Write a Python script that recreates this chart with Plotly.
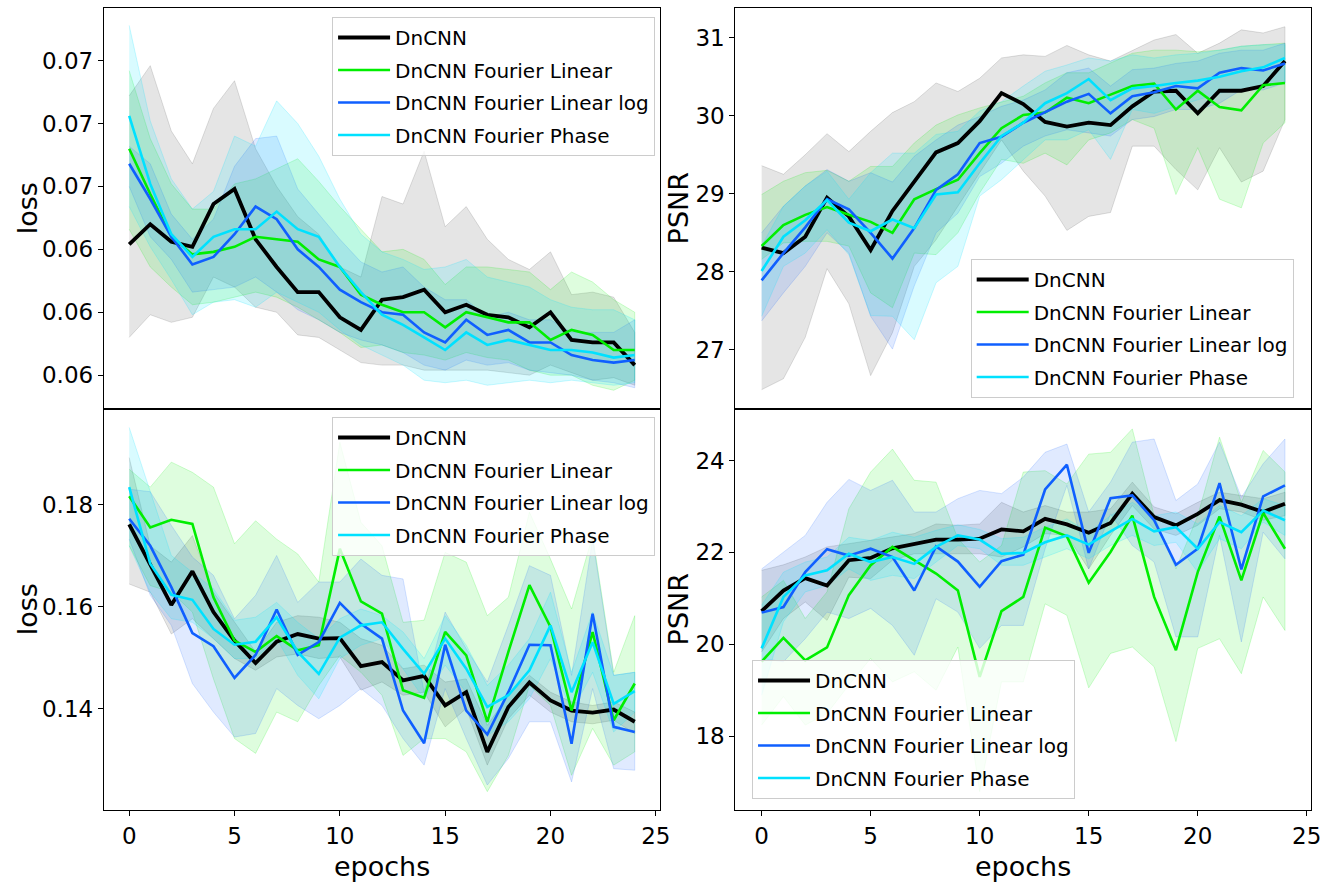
import plotly.graph_objects as go

# ---------------- data ----------------
epochs = list(range(25))
series_names = ["DnCNN", "DnCNN Fourier Linear", "DnCNN Fourier Linear log", "DnCNN Fourier Phase"]

# top-left: loss (dataset A)
tl_dncnn = [0.0627, 0.0635, 0.0628, 0.0626, 0.0643, 0.0649, 0.0629, 0.0618, 0.0608, 0.0608, 0.0598, 0.0593, 0.0605, 0.0606, 0.0609, 0.0600, 0.0603, 0.0599, 0.0598, 0.0594, 0.0600, 0.0589, 0.0588, 0.0588, 0.0579]
tl_dncnn_hi = [0.0686, 0.0698, 0.0672, 0.0659, 0.0681, 0.0692, 0.0665, 0.0650, 0.0638, 0.0631, 0.0618, 0.0614, 0.0646, 0.0643, 0.0664, 0.0634, 0.0642, 0.0629, 0.0621, 0.0617, 0.0624, 0.0607, 0.0608, 0.0606, 0.0592]
tl_dncnn_lo = [0.0590, 0.0599, 0.0596, 0.0598, 0.0614, 0.0610, 0.0602, 0.0600, 0.0591, 0.0590, 0.0585, 0.0580, 0.0579, 0.0579, 0.0577, 0.0577, 0.0577, 0.0577, 0.0576, 0.0575, 0.0579, 0.0576, 0.0573, 0.0574, 0.0571]
tl_lin = [0.0665, 0.0647, 0.0630, 0.0623, 0.0624, 0.0626, 0.0630, 0.0629, 0.0628, 0.0621, 0.0618, 0.0607, 0.0603, 0.0600, 0.0600, 0.0594, 0.0600, 0.0598, 0.0596, 0.0596, 0.0589, 0.0593, 0.0591, 0.0585, 0.0585]
tl_lin_hi = [0.0696, 0.0669, 0.0651, 0.0641, 0.0641, 0.0651, 0.0653, 0.0657, 0.0661, 0.0652, 0.0642, 0.0633, 0.0624, 0.0625, 0.0621, 0.0611, 0.0618, 0.0618, 0.0617, 0.0616, 0.0609, 0.0616, 0.0612, 0.0605, 0.0600]
tl_lin_lo = [0.0633, 0.0618, 0.0610, 0.0603, 0.0604, 0.0606, 0.0608, 0.0606, 0.0602, 0.0597, 0.0592, 0.0586, 0.0587, 0.0584, 0.0583, 0.0581, 0.0584, 0.0582, 0.0581, 0.0577, 0.0575, 0.0575, 0.0571, 0.0569, 0.0573]
tl_log = [0.0659, 0.0645, 0.0630, 0.0619, 0.0622, 0.0631, 0.0642, 0.0637, 0.0625, 0.0618, 0.0609, 0.0604, 0.0600, 0.0599, 0.0592, 0.0588, 0.0597, 0.0591, 0.0593, 0.0588, 0.0588, 0.0583, 0.0581, 0.0580, 0.0581]
tl_log_hi = [0.0666, 0.0659, 0.0639, 0.0629, 0.0637, 0.0658, 0.0669, 0.0670, 0.0649, 0.0639, 0.0629, 0.0620, 0.0616, 0.0618, 0.0610, 0.0605, 0.0605, 0.0598, 0.0600, 0.0597, 0.0597, 0.0592, 0.0592, 0.0592, 0.0597]
tl_log_lo = [0.0650, 0.0630, 0.0621, 0.0608, 0.0609, 0.0610, 0.0614, 0.0608, 0.0601, 0.0597, 0.0592, 0.0589, 0.0587, 0.0584, 0.0579, 0.0577, 0.0581, 0.0579, 0.0580, 0.0577, 0.0576, 0.0575, 0.0573, 0.0572, 0.0570]
tl_phase = [0.0678, 0.0651, 0.0631, 0.0622, 0.0630, 0.0633, 0.0633, 0.0640, 0.0633, 0.0630, 0.0618, 0.0608, 0.0599, 0.0595, 0.0590, 0.0585, 0.0592, 0.0587, 0.0589, 0.0587, 0.0585, 0.0585, 0.0584, 0.0582, 0.0583]
tl_phase_hi = [0.0714, 0.0676, 0.0653, 0.0641, 0.0648, 0.0670, 0.0666, 0.0684, 0.0675, 0.0662, 0.0645, 0.0631, 0.0624, 0.0621, 0.0617, 0.0618, 0.0621, 0.0614, 0.0612, 0.0610, 0.0605, 0.0602, 0.0601, 0.0601, 0.0597]
tl_phase_lo = [0.0642, 0.0626, 0.0613, 0.0599, 0.0604, 0.0605, 0.0602, 0.0608, 0.0604, 0.0600, 0.0593, 0.0587, 0.0583, 0.0579, 0.0573, 0.0572, 0.0573, 0.0571, 0.0572, 0.0573, 0.0572, 0.0573, 0.0572, 0.0571, 0.0572]

# top-right: PSNR (dataset A)
tr_dncnn = [28.31, 28.24, 28.45, 28.95, 28.71, 28.28, 28.78, 29.16, 29.53, 29.65, 29.93, 30.29, 30.15, 29.92, 29.86, 29.91, 29.88, 30.12, 30.31, 30.32, 30.03, 30.32, 30.32, 30.38, 30.70]
tr_dncnn_hi = [29.36, 29.25, 29.50, 29.77, 29.54, 29.80, 30.04, 30.18, 30.42, 30.31, 30.48, 30.74, 30.78, 30.76, 30.90, 30.78, 30.70, 30.84, 30.97, 31.04, 30.80, 30.93, 31.10, 31.06, 31.14]
tr_dncnn_lo = [26.49, 26.63, 27.16, 28.04, 27.59, 26.67, 27.22, 28.07, 28.41, 28.84, 29.27, 29.69, 29.29, 28.97, 28.53, 28.71, 28.76, 29.61, 29.61, 29.31, 29.05, 29.59, 29.15, 29.29, 29.95]
tr_lin = [28.33, 28.60, 28.73, 28.83, 28.73, 28.64, 28.50, 28.93, 29.06, 29.18, 29.52, 29.84, 30.01, 30.04, 30.23, 30.16, 30.27, 30.38, 30.41, 30.08, 30.32, 30.11, 30.07, 30.39, 30.42]
tr_lin_hi = [28.99, 29.16, 29.27, 29.30, 29.16, 29.35, 29.35, 29.65, 29.88, 30.01, 30.10, 30.18, 30.25, 30.42, 30.55, 30.55, 30.67, 30.80, 30.84, 30.84, 30.82, 30.84, 30.89, 30.91, 30.93]
tr_lin_lo = [28.16, 28.37, 28.39, 28.39, 28.33, 27.73, 27.54, 28.24, 28.22, 28.50, 29.01, 29.44, 29.39, 29.52, 29.37, 29.69, 29.78, 29.95, 29.84, 28.99, 29.59, 28.93, 28.82, 29.65, 29.91]
tr_log = [27.89, 28.24, 28.57, 28.93, 28.80, 28.50, 28.17, 28.56, 29.05, 29.25, 29.65, 29.73, 29.91, 30.05, 30.18, 30.28, 30.03, 30.25, 30.30, 30.38, 30.35, 30.55, 30.61, 30.58, 30.67]
tr_log_hi = [28.50, 28.84, 29.10, 29.31, 29.16, 29.27, 29.15, 29.48, 29.69, 29.88, 29.99, 30.12, 30.20, 30.33, 30.55, 30.61, 30.38, 30.59, 30.61, 30.67, 30.70, 30.80, 30.84, 30.84, 30.93]
tr_log_lo = [27.37, 27.73, 28.07, 28.50, 28.24, 27.43, 27.01, 27.82, 28.50, 28.75, 29.22, 29.39, 29.61, 29.74, 29.82, 29.78, 29.74, 29.95, 29.99, 30.08, 30.08, 30.16, 30.33, 30.33, 30.42]
tr_phase = [28.01, 28.45, 28.66, 28.92, 28.63, 28.52, 28.67, 28.56, 28.99, 29.02, 29.39, 29.74, 29.91, 30.16, 30.29, 30.47, 30.20, 30.35, 30.38, 30.42, 30.45, 30.50, 30.57, 30.62, 30.74]
tr_phase_hi = [28.33, 28.84, 29.10, 29.29, 28.93, 29.27, 29.52, 29.52, 29.76, 29.80, 30.06, 30.18, 30.38, 30.57, 30.65, 30.74, 30.70, 30.78, 30.74, 30.78, 30.80, 30.84, 30.89, 30.91, 30.91]
tr_phase_lo = [27.43, 28.07, 28.24, 28.54, 28.22, 27.44, 27.43, 27.13, 27.86, 28.07, 28.97, 29.18, 29.44, 29.69, 29.69, 29.82, 29.44, 30.08, 30.03, 30.12, 30.20, 30.29, 30.33, 30.38, 30.42]

# bottom-left: loss (dataset B)
bl_dncnn = [0.1761, 0.1680, 0.1603, 0.1669, 0.1589, 0.1533, 0.1489, 0.1531, 0.1546, 0.1537, 0.1538, 0.1483, 0.1491, 0.1455, 0.1464, 0.1406, 0.1432, 0.1315, 0.1403, 0.1451, 0.1416, 0.1396, 0.1392, 0.1398, 0.1374]
bl_dncnn_hi = [0.1892, 0.1719, 0.1687, 0.1739, 0.1628, 0.1569, 0.1511, 0.1569, 0.1582, 0.1579, 0.1569, 0.1537, 0.1524, 0.1478, 0.1485, 0.1452, 0.1458, 0.1367, 0.1426, 0.1465, 0.1432, 0.1413, 0.1406, 0.1413, 0.1393]
bl_dncnn_lo = [0.1644, 0.1628, 0.1546, 0.1576, 0.1537, 0.1498, 0.1475, 0.1501, 0.1507, 0.1498, 0.1501, 0.1436, 0.1452, 0.1426, 0.1432, 0.1364, 0.1400, 0.1289, 0.1380, 0.1426, 0.1393, 0.1374, 0.1370, 0.1377, 0.1351]
bl_lin = [0.1816, 0.1755, 0.1770, 0.1762, 0.1618, 0.1533, 0.1511, 0.1542, 0.1514, 0.1524, 0.1713, 0.1610, 0.1586, 0.1436, 0.1421, 0.1550, 0.1504, 0.1374, 0.1511, 0.1642, 0.1560, 0.1396, 0.1550, 0.1377, 0.1449]
bl_lin_hi = [0.1869, 0.1834, 0.1883, 0.1863, 0.1834, 0.1723, 0.1768, 0.1732, 0.1703, 0.1648, 0.1922, 0.1765, 0.1719, 0.1569, 0.1573, 0.1706, 0.1687, 0.1582, 0.1618, 0.1785, 0.1693, 0.1595, 0.1739, 0.1471, 0.1582]
bl_lin_lo = [0.1719, 0.1641, 0.1628, 0.1589, 0.1458, 0.1341, 0.1312, 0.1393, 0.1374, 0.1445, 0.1504, 0.1471, 0.1426, 0.1308, 0.1341, 0.1341, 0.1315, 0.1237, 0.1308, 0.1445, 0.1406, 0.1269, 0.1361, 0.1289, 0.1315]
bl_log = [0.1772, 0.1719, 0.1638, 0.1548, 0.1522, 0.1460, 0.1505, 0.1594, 0.1505, 0.1530, 0.1607, 0.1566, 0.1537, 0.1396, 0.1332, 0.1525, 0.1396, 0.1349, 0.1432, 0.1525, 0.1524, 0.1331, 0.1586, 0.1364, 0.1354]
bl_log_hi = [0.1830, 0.1825, 0.1759, 0.1697, 0.1661, 0.1576, 0.1622, 0.1700, 0.1608, 0.1648, 0.1648, 0.1693, 0.1661, 0.1654, 0.1432, 0.1589, 0.1517, 0.1452, 0.1563, 0.1680, 0.1661, 0.1465, 0.1732, 0.1465, 0.1471]
bl_log_lo = [0.1732, 0.1622, 0.1563, 0.1449, 0.1393, 0.1344, 0.1351, 0.1439, 0.1406, 0.1380, 0.1406, 0.1439, 0.1406, 0.1341, 0.1289, 0.1439, 0.1341, 0.1250, 0.1302, 0.1374, 0.1374, 0.1256, 0.1439, 0.1282, 0.1279]
bl_phase = [0.1834, 0.1684, 0.1623, 0.1613, 0.1556, 0.1525, 0.1531, 0.1579, 0.1511, 0.1468, 0.1539, 0.1563, 0.1569, 0.1517, 0.1468, 0.1537, 0.1478, 0.1403, 0.1426, 0.1475, 0.1563, 0.1432, 0.1530, 0.1409, 0.1434]
bl_phase_hi = [0.1951, 0.1827, 0.1700, 0.1667, 0.1635, 0.1573, 0.1579, 0.1608, 0.1569, 0.1537, 0.1576, 0.1595, 0.1582, 0.1550, 0.1498, 0.1582, 0.1524, 0.1445, 0.1485, 0.1537, 0.1628, 0.1471, 0.1589, 0.1465, 0.1471]
bl_phase_lo = [0.1719, 0.1628, 0.1576, 0.1569, 0.1537, 0.1498, 0.1498, 0.1537, 0.1465, 0.1419, 0.1498, 0.1524, 0.1537, 0.1478, 0.1419, 0.1485, 0.1432, 0.1347, 0.1374, 0.1419, 0.1498, 0.1393, 0.1471, 0.1354, 0.1393]

# bottom-right: PSNR (dataset B)
br_dncnn = [20.72, 21.17, 21.44, 21.28, 21.83, 21.88, 22.09, 22.19, 22.28, 22.28, 22.30, 22.50, 22.46, 22.73, 22.61, 22.43, 22.64, 23.28, 22.77, 22.59, 22.84, 23.14, 23.04, 22.88, 23.06]
br_dncnn_hi = [21.61, 21.73, 21.90, 22.12, 22.19, 22.26, 22.33, 22.41, 22.62, 22.59, 22.62, 23.09, 22.88, 23.02, 22.88, 22.88, 22.95, 23.53, 22.99, 22.84, 23.09, 23.31, 23.24, 23.17, 23.31]
br_dncnn_lo = [19.83, 20.56, 20.92, 20.52, 21.46, 21.43, 21.83, 21.97, 21.97, 21.97, 21.97, 21.90, 22.12, 22.41, 22.37, 21.64, 22.37, 23.02, 22.51, 22.37, 22.59, 22.95, 22.88, 22.70, 22.80]
br_lin = [19.62, 20.14, 19.65, 19.93, 21.07, 21.72, 22.12, 21.83, 21.54, 21.17, 19.29, 20.72, 21.03, 22.54, 22.35, 21.34, 22.01, 22.80, 21.03, 19.87, 21.57, 22.78, 21.39, 22.86, 22.08]
br_lin_hi = [21.03, 21.39, 20.56, 21.14, 22.95, 23.75, 24.25, 23.57, 23.53, 22.30, 21.79, 22.15, 23.75, 23.78, 23.49, 24.14, 24.18, 24.69, 22.80, 21.64, 22.80, 24.51, 23.09, 24.22, 23.75]
br_lin_lo = [18.24, 18.86, 18.24, 18.49, 19.11, 19.69, 19.18, 19.40, 19.00, 19.94, 16.79, 19.18, 19.18, 20.88, 20.63, 19.05, 19.80, 19.94, 19.51, 17.88, 19.91, 20.12, 19.36, 21.03, 20.30]
br_log = [20.69, 20.81, 21.57, 22.07, 21.93, 22.08, 21.90, 21.17, 22.13, 21.80, 21.25, 21.81, 21.95, 23.37, 23.91, 21.99, 23.18, 23.24, 22.70, 21.73, 22.08, 23.51, 21.63, 23.22, 23.46]
br_log_hi = [21.64, 22.01, 22.37, 23.09, 23.59, 23.35, 23.57, 22.88, 22.88, 23.17, 23.35, 23.28, 23.64, 24.18, 24.36, 22.88, 23.53, 24.40, 24.47, 23.13, 23.49, 24.40, 23.20, 23.93, 24.47]
br_log_lo = [19.69, 19.62, 20.12, 20.70, 20.56, 20.78, 20.41, 19.76, 20.99, 20.70, 19.91, 20.41, 20.41, 22.08, 23.46, 21.64, 22.84, 22.15, 21.79, 20.16, 20.16, 22.37, 20.05, 22.44, 21.86]
br_phase = [19.91, 21.03, 21.50, 21.61, 21.97, 21.79, 21.90, 21.75, 22.12, 22.37, 22.28, 21.97, 21.99, 22.22, 22.37, 22.17, 22.46, 22.73, 22.46, 22.55, 22.08, 22.66, 22.44, 22.91, 22.70]
br_phase_hi = [20.85, 21.57, 21.79, 21.90, 22.33, 22.26, 22.44, 22.33, 22.48, 22.60, 22.50, 22.30, 22.33, 22.55, 22.73, 22.44, 22.80, 23.09, 22.80, 22.88, 22.62, 23.02, 22.80, 23.17, 23.02]
br_phase_lo = [18.89, 20.49, 21.14, 21.28, 21.64, 21.39, 21.50, 21.43, 21.79, 22.15, 22.08, 21.72, 21.72, 21.90, 22.08, 21.86, 22.15, 22.37, 22.15, 22.22, 21.57, 22.30, 22.08, 22.66, 22.37]

# tick labels
x_ticks = [0, 5, 10, 15, 20, 25]
tl_tickvals = [0.0575, 0.0600, 0.0625, 0.0650, 0.0675, 0.0700]
tl_ticktext = ["0.06", "0.06", "0.06", "0.07", "0.07", "0.07"]
tr_tickvals = [27, 28, 29, 30, 31]
bl_tickvals = [0.14, 0.16, 0.18]
bl_ticktext = ["0.14", "0.16", "0.18"]
br_tickvals = [18, 20, 22, 24]

# ---------------- style ----------------
FONT = "DejaVu Sans"
line_colors = ["#000000", "#00ee00", "#0f5fff", "#00e1ff"]
fill_colors = ["rgba(0,0,0,0.10)", "rgba(0,238,0,0.13)", "rgba(15,95,255,0.13)", "rgba(0,225,255,0.15)"]
edge_colors = ["rgba(0,0,0,0.12)", "rgba(0,238,0,0.18)", "rgba(15,95,255,0.16)", "rgba(0,225,255,0.20)"]
line_widths = [3.8, 2.6, 2.6, 2.6]

panels = [
    dict(xa="x", ya="y", legend="legend",
         means=[tl_dncnn, tl_lin, tl_log, tl_phase],
         his=[tl_dncnn_hi, tl_lin_hi, tl_log_hi, tl_phase_hi],
         los=[tl_dncnn_lo, tl_lin_lo, tl_log_lo, tl_phase_lo]),
    dict(xa="x2", ya="y2", legend="legend2",
         means=[tr_dncnn, tr_lin, tr_log, tr_phase],
         his=[tr_dncnn_hi, tr_lin_hi, tr_log_hi, tr_phase_hi],
         los=[tr_dncnn_lo, tr_lin_lo, tr_log_lo, tr_phase_lo]),
    dict(xa="x3", ya="y3", legend="legend3",
         means=[bl_dncnn, bl_lin, bl_log, bl_phase],
         his=[bl_dncnn_hi, bl_lin_hi, bl_log_hi, bl_phase_hi],
         los=[bl_dncnn_lo, bl_lin_lo, bl_log_lo, bl_phase_lo]),
    dict(xa="x4", ya="y4", legend="legend4",
         means=[br_dncnn, br_lin, br_log, br_phase],
         his=[br_dncnn_hi, br_lin_hi, br_log_hi, br_phase_hi],
         los=[br_dncnn_lo, br_lin_lo, br_log_lo, br_phase_lo]),
]

fig = go.Figure()
for p in panels:
    for i in range(4):
        hi, lo = p["his"][i], p["los"][i]
        fig.add_trace(go.Scatter(
            x=epochs + epochs[::-1], y=hi + lo[::-1],
            xaxis=p["xa"], yaxis=p["ya"], mode="lines", fill="toself",
            fillcolor=fill_colors[i], line=dict(color=edge_colors[i], width=1),
            showlegend=False, hoverinfo="skip"))
    for i in range(4):
        fig.add_trace(go.Scatter(
            x=epochs, y=p["means"][i], xaxis=p["xa"], yaxis=p["ya"],
            mode="lines", name=series_names[i],
            line=dict(color=line_colors[i], width=line_widths[i]),
            legend=p["legend"], legendgroup=p["legend"] + str(i)))

W, H = 1338, 886
LW = 1.2
left_dom = [104.7 / W, 665 / W]
right_dom = [741 / W, 1321 / W]
top_dom = [1 - (409 - LW / 2) / H, 1 - 8 / H]
bot_dom = [1 - 810 / H, 1 - (409 + LW / 2) / H]

tickfont = dict(family=FONT, size=23, color="black")
common_x = dict(range=[-1.2, 25.2], showline=True, mirror=True, linecolor="black",
                linewidth=LW, showgrid=False, zeroline=False, tickvals=x_ticks,
                tickfont=tickfont, ticklen=5, tickwidth=1.2, tickcolor="black")
common_y = dict(showline=True, mirror=True, linecolor="black", linewidth=LW,
                showgrid=False, zeroline=False, tickfont=tickfont, ticks="outside",
                ticklen=5, tickwidth=1.2, tickcolor="black")

legend_common = dict(bgcolor="rgba(255,255,255,0.8)", bordercolor="#cccccc", borderwidth=1,
                     font=dict(family=FONT, size=20, color="black"),
                     tracegroupgap=3.5, itemwidth=52, yanchor="top")

fig.update_layout(
    width=W, height=H, autosize=False,
    margin=dict(l=0, r=0, t=0, b=0),
    paper_bgcolor="white", plot_bgcolor="white",
    font=dict(family=FONT, color="black"),
    xaxis=dict(domain=left_dom, anchor="y", showticklabels=False, ticks="", **common_x),
    yaxis=dict(domain=top_dom, anchor="x", range=[0.05618, 0.07209],
               tickvals=tl_tickvals, ticktext=tl_ticktext, **common_y),
    xaxis2=dict(domain=right_dom, anchor="y2", showticklabels=False, ticks="", **common_x),
    yaxis2=dict(domain=top_dom, anchor="x2", range=[26.25, 31.38], tickvals=tr_tickvals, **common_y),
    xaxis3=dict(domain=left_dom, anchor="y3", ticks="outside", **common_x),
    yaxis3=dict(domain=bot_dom, anchor="x3", range=[0.1201, 0.1986],
                tickvals=bl_tickvals, ticktext=bl_ticktext, **common_y),
    xaxis4=dict(domain=right_dom, anchor="y4", ticks="outside", **common_x),
    yaxis4=dict(domain=bot_dom, anchor="x4", range=[16.39, 25.11], tickvals=br_tickvals, **common_y),
    legend=dict(x=660 / W, y=1 - 17 / H, xanchor="right", **legend_common),
    legend2=dict(x=978 / W, y=1 - 259 / H, xanchor="left", **legend_common),
    legend3=dict(x=660 / W, y=1 - 417 / H, xanchor="right", **legend_common),
    legend4=dict(x=757.7 / W, y=1 - 660 / H, xanchor="left", **legend_common),
)

title_font = dict(family=FONT, size=27, color="black")
annos = [
    dict(text="loss", x=28 / W, y=1 - 208.5 / H, textangle=-90),
    dict(text="PSNR", x=684 / W, y=1 - 208.5 / H, textangle=-90),
    dict(text="loss", x=28 / W, y=1 - 609.5 / H, textangle=-90),
    dict(text="PSNR", x=684 / W, y=1 - 609.5 / H, textangle=-90),
    dict(text="epochs", x=385 / W, y=1 - 866 / H, textangle=0),
    dict(text="epochs", x=1031 / W, y=1 - 866 / H, textangle=0),
]
for a in annos:
    fig.add_annotation(xref="paper", yref="paper", xanchor="center", yanchor="middle",
                       showarrow=False, font=title_font, **a)

fig.write_html("out.html")
